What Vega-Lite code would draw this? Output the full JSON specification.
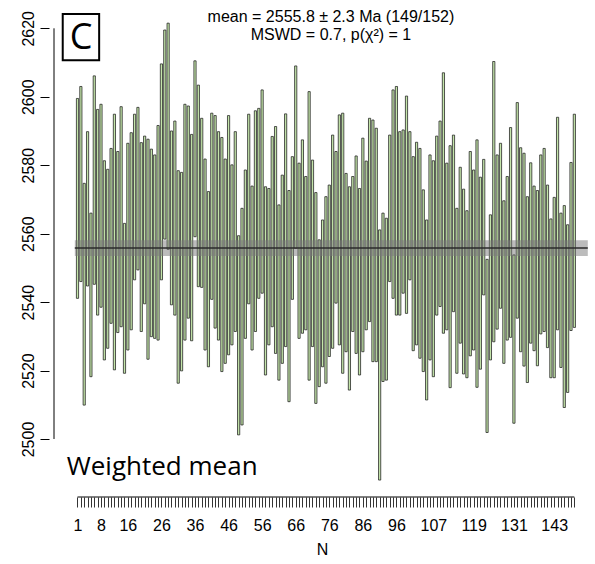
{
  "$schema": "https://vega.github.io/schema/vega-lite/v6.json",
  "width": 546,
  "height": 497,
  "autosize": {"type": "none"},
  "padding": {"left": 49, "top": 0, "right": 0, "bottom": 67},
  "background": "white",
  "config": {"view": {"stroke": null}, "font": "Liberation Sans"},
  "resolve": {"axis": {"x": "independent", "y": "independent"}},
  "datasets": {
    "bars": [
      {"n":1,"lo":2541.1,"hi":2599.5},{"n":2,"lo":2546.0,"hi":2603.0},{"n":3,"lo":2509.9,"hi":2574.7},{"n":4,"lo":2544.7,"hi":2589.8},{"n":5,"lo":2518.2,"hi":2566.0},
      {"n":6,"lo":2545.2,"hi":2606.1},{"n":7,"lo":2536.2,"hi":2596.3},{"n":8,"lo":2538.5,"hi":2597.8},{"n":9,"lo":2523.1,"hi":2581.3},{"n":10,"lo":2526.5,"hi":2578.8},
      {"n":11,"lo":2533.8,"hi":2584.9},{"n":12,"lo":2520.2,"hi":2594.9},{"n":13,"lo":2531.1,"hi":2584.0},{"n":14,"lo":2532.8,"hi":2597.1},{"n":15,"lo":2519.2,"hi":2563.0},
      {"n":16,"lo":2526.0,"hi":2586.4},{"n":17,"lo":2531.9,"hi":2589.5},{"n":18,"lo":2546.5,"hi":2594.9},{"n":19,"lo":2549.4,"hi":2596.9},{"n":20,"lo":2531.4,"hi":2586.6},
      {"n":21,"lo":2539.5,"hi":2588.5},{"n":22,"lo":2523.3,"hi":2587.6},{"n":23,"lo":2529.9,"hi":2584.7},{"n":24,"lo":2529.4,"hi":2583.0},{"n":25,"lo":2528.9,"hi":2591.6},
      {"n":26,"lo":2546.5,"hi":2609.6},{"n":27,"lo":2558.4,"hi":2619.5},{"n":28,"lo":2555.4,"hi":2621.5},{"n":29,"lo":2539.2,"hi":2590.0},{"n":30,"lo":2536.2,"hi":2592.9},
      {"n":31,"lo":2516.3,"hi":2578.4},{"n":32,"lo":2519.9,"hi":2577.9},{"n":33,"lo":2528.9,"hi":2597.8},{"n":34,"lo":2535.3,"hi":2597.3},{"n":35,"lo":2528.7,"hi":2589.0},
      {"n":36,"lo":2559.1,"hi":2610.5},{"n":37,"lo":2544.5,"hi":2603.4},{"n":38,"lo":2544.3,"hi":2593.7},{"n":39,"lo":2526.0,"hi":2581.8},{"n":40,"lo":2521.1,"hi":2572.3},
      {"n":41,"lo":2540.8,"hi":2595.2},{"n":42,"lo":2532.4,"hi":2594.5},{"n":43,"lo":2528.9,"hi":2589.8},{"n":44,"lo":2519.7,"hi":2588.1},{"n":45,"lo":2522.1,"hi":2581.8},
      {"n":46,"lo":2524.6,"hi":2594.5},{"n":47,"lo":2527.5,"hi":2580.1},{"n":48,"lo":2531.4,"hi":2589.8},{"n":49,"lo":2501.2,"hi":2559.4},{"n":50,"lo":2504.1,"hi":2567.4},
      {"n":51,"lo":2529.4,"hi":2578.6},{"n":52,"lo":2539.5,"hi":2594.9},{"n":53,"lo":2526.0,"hi":2573.9},{"n":54,"lo":2531.4,"hi":2595.9},{"n":55,"lo":2541.1,"hi":2596.6},
      {"n":56,"lo":2542.6,"hi":2602.0},{"n":57,"lo":2518.7,"hi":2573.7},{"n":58,"lo":2527.5,"hi":2573.2},{"n":59,"lo":2532.8,"hi":2588.4},{"n":60,"lo":2525.0,"hi":2591.3},
      {"n":61,"lo":2517.2,"hi":2568.4},{"n":62,"lo":2522.1,"hi":2577.1},{"n":63,"lo":2527.0,"hi":2595.0},{"n":64,"lo":2510.9,"hi":2572.6},{"n":65,"lo":2540.8,"hi":2582.5},
      {"n":66,"lo":2555.7,"hi":2609.0},{"n":67,"lo":2529.4,"hi":2580.6},{"n":68,"lo":2530.9,"hi":2587.4},{"n":69,"lo":2531.9,"hi":2576.7},{"n":70,"lo":2517.2,"hi":2601.5},
      {"n":71,"lo":2527.0,"hi":2581.5},{"n":72,"lo":2510.4,"hi":2572.0},{"n":73,"lo":2515.3,"hi":2558.2},{"n":74,"lo":2521.1,"hi":2564.0},{"n":75,"lo":2516.3,"hi":2570.8},
      {"n":76,"lo":2524.1,"hi":2574.2},{"n":77,"lo":2526.5,"hi":2588.8},{"n":78,"lo":2539.7,"hi":2584.0},{"n":79,"lo":2527.5,"hi":2594.7},{"n":80,"lo":2519.2,"hi":2595.2},
      {"n":81,"lo":2525.5,"hi":2577.6},{"n":82,"lo":2514.3,"hi":2573.7},{"n":83,"lo":2531.4,"hi":2576.7},{"n":84,"lo":2525.0,"hi":2582.7},{"n":85,"lo":2518.7,"hi":2573.2},
      {"n":86,"lo":2525.5,"hi":2587.9},{"n":87,"lo":2531.9,"hi":2581.2},{"n":88,"lo":2534.3,"hi":2593.7},{"n":89,"lo":2522.6,"hi":2593.2},{"n":90,"lo":2522.6,"hi":2590.8},
      {"n":91,"lo":2488.0,"hi":2561.1},{"n":92,"lo":2516.8,"hi":2566.0},{"n":93,"lo":2517.2,"hi":2564.5},{"n":94,"lo":2546.0,"hi":2588.8},{"n":95,"lo":2541.1,"hi":2602.0},
      {"n":96,"lo":2536.2,"hi":2603.0},{"n":97,"lo":2536.2,"hi":2589.8},{"n":98,"lo":2542.6,"hi":2590.3},{"n":99,"lo":2536.7,"hi":2600.2},{"n":100,"lo":2546.5,"hi":2589.8},
      {"n":101,"lo":2525.8,"hi":2582.5},{"n":102,"lo":2527.5,"hi":2586.7},{"n":103,"lo":2523.6,"hi":2584.9},{"n":104,"lo":2519.7,"hi":2572.8},{"n":105,"lo":2511.4,"hi":2564.0},
      {"n":106,"lo":2523.1,"hi":2583.0},{"n":107,"lo":2518.2,"hi":2581.3},{"n":108,"lo":2536.2,"hi":2588.5},{"n":109,"lo":2538.7,"hi":2592.9},{"n":110,"lo":2530.9,"hi":2607.0},
      {"n":111,"lo":2531.9,"hi":2580.6},{"n":112,"lo":2515.0,"hi":2585.7},{"n":113,"lo":2537.2,"hi":2588.8},{"n":114,"lo":2519.2,"hi":2567.4},{"n":115,"lo":2528.0,"hi":2579.4},
      {"n":116,"lo":2519.0,"hi":2573.0},{"n":117,"lo":2517.9,"hi":2566.7},{"n":118,"lo":2524.3,"hi":2584.0},{"n":119,"lo":2526.0,"hi":2578.6},{"n":120,"lo":2515.1,"hi":2587.4},
      {"n":121,"lo":2520.4,"hi":2576.5},{"n":122,"lo":2542.1,"hi":2581.7},{"n":123,"lo":2501.9,"hi":2552.5},{"n":124,"lo":2523.1,"hi":2565.5},{"n":125,"lo":2528.4,"hi":2610.3},
      {"n":126,"lo":2532.1,"hi":2583.0},{"n":127,"lo":2538.2,"hi":2586.4},{"n":128,"lo":2522.1,"hi":2569.6},{"n":129,"lo":2528.9,"hi":2576.7},{"n":130,"lo":2529.7,"hi":2591.0},
      {"n":131,"lo":2504.6,"hi":2553.8},{"n":132,"lo":2535.3,"hi":2598.3},{"n":133,"lo":2525.5,"hi":2585.1},{"n":134,"lo":2521.3,"hi":2583.5},{"n":135,"lo":2516.5,"hi":2570.8},
      {"n":136,"lo":2528.0,"hi":2580.7},{"n":137,"lo":2525.8,"hi":2573.9},{"n":138,"lo":2521.4,"hi":2572.6},{"n":139,"lo":2530.7,"hi":2583.0},{"n":140,"lo":2531.4,"hi":2584.9},
      {"n":141,"lo":2526.7,"hi":2574.2},{"n":142,"lo":2517.9,"hi":2564.3},{"n":143,"lo":2517.9,"hi":2570.6},{"n":144,"lo":2531.9,"hi":2594.0},{"n":145,"lo":2520.9,"hi":2566.0},
      {"n":146,"lo":2509.2,"hi":2568.2},{"n":147,"lo":2513.6,"hi":2562.6},{"n":148,"lo":2531.7,"hi":2580.8},{"n":149,"lo":2532.6,"hi":2594.9}
    ]
  },
  "layer": [
    {
      "data": {"name": "bars"},
      "mark": {"type": "bar", "width": 2.2, "fill": "#c4e5aa", "stroke": "#1e1e1e", "strokeWidth": 0.75},
      "encoding": {
        "x": {
          "field": "n", "type": "quantitative",
          "scale": {"domain": [-6, 153.66], "nice": false, "zero": false},
          "axis": {
            "orient": "bottom", "title": "N", "domain": false, "grid": false,
            "values": [1,2,3,4,5,6,7,8,9,10,11,12,13,14,15,16,17,18,19,20,21,22,23,24,25,26,27,28,29,30,31,32,33,34,35,36,37,38,39,40,41,42,43,44,45,46,47,48,49,50,51,52,53,54,55,56,57,58,59,60,61,62,63,64,65,66,67,68,69,70,71,72,73,74,75,76,77,78,79,80,81,82,83,84,85,86,87,88,89,90,91,92,93,94,95,96,97,98,99,100,101,102,103,104,105,106,107,108,109,110,111,112,113,114,115,116,117,118,119,120,121,122,123,124,125,126,127,128,129,130,131,132,133,134,135,136,137,138,139,140,141,142,143,144,145,146,147,148,149],
            "format": "d",
            "labelExpr": "indexof([1,8,16,26,36,46,56,66,76,86,96,107,119,131,143], datum.value) >= 0 ? datum.label : ''",
            "labelOverlap": false, "labelFlush": false,
            "tickSize": 10, "tickColor": "#000", "tickWidth": 0.8,
            "labelFontSize": 16, "labelColor": "#000", "labelPadding": 10,
            "titleFontSize": 16, "titleFontWeight": "normal", "titleColor": "#000", "titlePadding": 8
          }
        },
        "y": {
          "field": "lo", "type": "quantitative",
          "scale": {"domain": [2483.05, 2628.27], "nice": false, "zero": false},
          "axis": {
            "title": null, "domain": false, "grid": false,
            "values": [2500, 2520, 2540, 2560, 2580, 2600, 2620],
            "format": "d",
            "labelAngle": -90, "labelAlign": "center", "labelBaseline": "bottom",
            "tickSize": 9, "tickColor": "#000", "tickWidth": 1,
            "labelFontSize": 16, "labelColor": "#000", "labelPadding": 4
          }
        },
        "y2": {"field": "hi"}
      }
    },
    {
      "data": {"values": [{}]},
      "mark": {"type": "rect", "fill": "#7a7a7a", "opacity": 0.5},
      "encoding": {
        "x": {"datum": 0.2, "type": "quantitative", "axis": null},
        "x2": {"datum": 153},
        "y": {"datum": 2553.5, "type": "quantitative", "axis": null},
        "y2": {"datum": 2558.1}
      }
    },
    {
      "data": {"values": [{}]},
      "mark": {"type": "rule", "color": "#2a2a2a", "strokeWidth": 1.5},
      "encoding": {
        "x": {"datum": 0.2, "type": "quantitative", "axis": null},
        "x2": {"datum": 153},
        "y": {"datum": 2555.8, "type": "quantitative", "axis": null}
      }
    },
    {
      "data": {"values": [{}]},
      "mark": {"type": "rule", "color": "#000", "strokeWidth": 1},
      "encoding": {
        "x": {"datum": -6, "type": "quantitative", "axis": null},
        "y": {"datum": 2500, "type": "quantitative", "axis": null},
        "y2": {"datum": 2620}
      }
    },
    {
      "data": {"values": [{}]},
      "mark": {"type": "rule", "color": "#000", "strokeWidth": 1},
      "encoding": {
        "x": {"datum": 1, "type": "quantitative", "axis": null},
        "x2": {"datum": 149},
        "y": {"datum": 2483.05, "type": "quantitative", "axis": null}
      }
    },
    {
      "data": {"values": [{}]},
      "mark": {"type": "rect", "fill": null, "fillOpacity": 0, "stroke": "#000", "strokeWidth": 2},
      "encoding": {
        "x": {"datum": -3.4, "type": "quantitative", "axis": null},
        "x2": {"datum": 7.45},
        "y": {"datum": 2610.7, "type": "quantitative", "axis": null},
        "y2": {"datum": 2624.2}
      }
    },
    {
      "data": {"values": [{}]},
      "mark": {"type": "text", "text": "C", "font": "Open Sans", "fontSize": 36, "align": "center", "baseline": "middle", "color": "#000"},
      "encoding": {
        "x": {"datum": 2.05, "type": "quantitative", "axis": null},
        "y": {"datum": 2617.3, "type": "quantitative", "axis": null}
      }
    },
    {
      "data": {"values": [{}]},
      "mark": {"type": "text", "text": "Weighted mean", "font": "Open Sans", "fontSize": 26, "align": "left", "baseline": "middle", "color": "#000"},
      "encoding": {
        "x": {"datum": -2.2, "type": "quantitative", "axis": null},
        "y": {"datum": 2491.8, "type": "quantitative", "axis": null}
      }
    },
    {
      "data": {"values": [{}]},
      "mark": {"type": "text", "text": "mean = 2555.8 ± 2.3 Ma (149/152)", "fontSize": 16, "align": "center", "baseline": "middle", "color": "#000"},
      "encoding": {
        "x": {"datum": 76.5, "type": "quantitative", "axis": null},
        "y": {"datum": 2623.3, "type": "quantitative", "axis": null}
      }
    },
    {
      "data": {"values": [{}]},
      "mark": {"type": "text", "text": "MSWD = 0.7, p(χ²) = 1", "fontSize": 16, "align": "center", "baseline": "middle", "color": "#000"},
      "encoding": {
        "x": {"datum": 76.5, "type": "quantitative", "axis": null},
        "y": {"datum": 2618.0, "type": "quantitative", "axis": null}
      }
    }
  ]
}
